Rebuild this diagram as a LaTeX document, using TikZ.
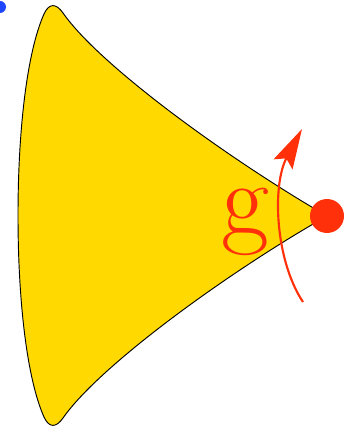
\documentclass[tikz,border=0pt]{standalone}
\usepackage{tikz}
\usetikzlibrary{arrows.meta, positioning, calc}

\definecolor{fanyellow}{RGB}{255,217,0}
\definecolor{gred}{RGB}{255,48,10}
\definecolor{dotblue}{RGB}{30,70,255}

\begin{document}
\begin{tikzpicture}[x=0.75pt, y=-0.75pt,
    fan/.style={fill=fanyellow, draw=black, line width=0.7pt},
    vertex/.style={circle, fill=gred, inner sep=0pt, minimum size=25.5pt},
    flow/.style={gred, line width=1.6pt, -{Stealth[length=30pt, width=16pt, inset=5pt]}}]
    \useasboundingbox (0,0) rectangle (351,427);

    % 扇形
    \draw[fan] (327,216)
        .. controls (230,160) and (100,66) .. (63,13)
        .. controls (56,3) and (49,3) .. (44,14)
        .. controls (27,52) and (18,130) .. (18,215.5)
        .. controls (18,301) and (27,379) .. (44,417)
        .. controls (49,428) and (56,428) .. (63,418)
        .. controls (100,365) and (230,271) .. (327,216) -- cycle;

    % 顶点
    \node[vertex] (v) at (327,216) {};

    % 标签
    \node[gred, anchor=base, font=\fontsize{78}{80}\selectfont] (g) at (245,234) {g};

    % 箭头
    \coordinate (arrS) at (303,302);
    \coordinate (arrE) at (302,129);
    \draw[flow] (arrS) .. controls (275,260) and (272,185) .. (arrE);

    % 左上角蓝点
    \fill[dotblue] (0,7) circle (6);
\end{tikzpicture}
\end{document}
